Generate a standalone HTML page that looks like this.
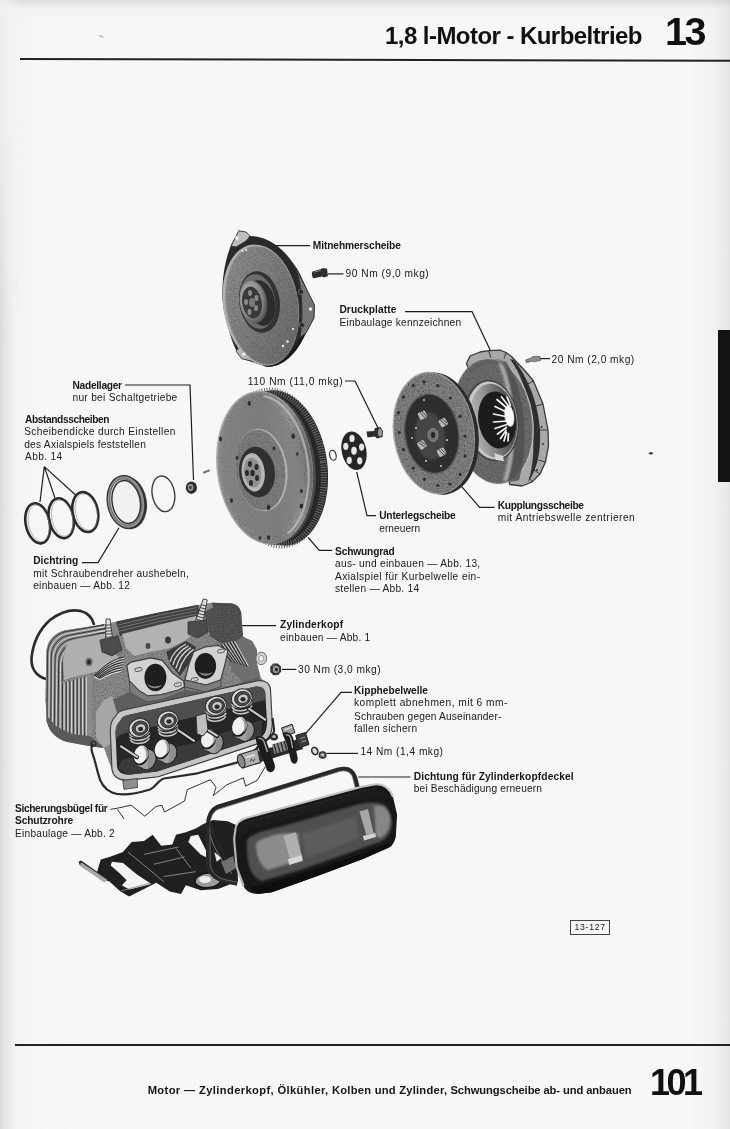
<!DOCTYPE html>
<html><head><meta charset="utf-8">
<style>
html,body{margin:0;padding:0;overflow:hidden;}
body{width:730px;height:1129px;position:relative;overflow:hidden;background:#f1f1f1;font-family:"Liberation Sans",sans-serif;color:#1a1a1a;}
#bg{position:absolute;left:0;top:0;width:730px;height:1129px;
 background:linear-gradient(180deg,rgba(200,200,200,0.55) 0px,rgba(230,230,230,0.25) 8px,rgba(245,245,245,0) 22px),
 linear-gradient(90deg,#d8d8d8 0px,#e4e4e4 5px,#eeeeee 11px,#f4f4f4 18px,#f6f6f6 32px,#f7f7f7 80px,#f7f7f7 690px,#f3f3f3 712px,#ececec 723px,#e4e4e4 730px);}
.t{position:absolute;white-space:nowrap;font-size:10.2px;line-height:12px;color:#202020;}
.b{font-weight:bold;color:#161616;}
.f{font-weight:bold;color:#151515;font-size:11.2px;line-height:14px;white-space:pre;}
#h1{position:absolute;left:385px;top:22.2px;font-size:24px;font-weight:bold;letter-spacing:-0.55px;white-space:nowrap;color:#111;line-height:28px;}
#h2{position:absolute;left:665px;top:9.4px;font-size:39.5px;font-weight:bold;letter-spacing:-2.5px;white-space:nowrap;color:#111;line-height:44px;}
#f1{position:absolute;left:146.5px;top:1080.3px;font-size:11.2px;font-weight:bold;letter-spacing:0.26px;white-space:nowrap;color:#111;line-height:14px;}
#f2{position:absolute;left:650px;top:1061.3px;font-size:36px;font-weight:bold;letter-spacing:-3.5px;white-space:nowrap;color:#111;line-height:44px;}
#bgl{position:absolute;left:0;top:0;width:24px;height:340px;background:linear-gradient(90deg,rgba(246,246,246,0.75) 0px,rgba(246,246,246,0.6) 8px,rgba(246,246,246,0) 24px);-webkit-mask-image:linear-gradient(180deg,#000 0px,#000 110px,transparent 340px);mask-image:linear-gradient(180deg,#000 0px,#000 110px,transparent 340px);}
.hl{position:absolute;height:1.5px;background:#222;}
#tab{position:absolute;left:717.5px;top:329.5px;width:13px;height:152px;background:#141414;filter:blur(0.5px);}
#box{position:absolute;left:570px;top:920.4px;width:38.4px;height:12.4px;border:0.9px solid #444;font-size:8.6px;line-height:13px;text-align:center;letter-spacing:0.75px;color:#222;}
svg{position:absolute;left:0;top:0;filter:blur(0.45px);}
.t,#h1,#h2,#f1,#f2,#box{filter:blur(0.3px);}
</style></head><body>
<div id="bg"></div>
<div id="bgl"></div>
<div id="h1">1,8 l-Motor - Kurbeltrieb</div>
<div id="h2">13</div>
<div class="hl" style="left:19.5px;top:58px;width:710.5px;height:1.7px;transform-origin:0 0;transform:rotate(0.15deg);"></div>
<div class="hl" style="left:14.5px;top:1043.8px;width:715.5px;height:1.9px;"></div>
<div id="tab"></div>
<div id="box">13-127</div>
<div id="f2">101</div>

<svg width="730" height="1129" viewBox="0 0 730 1129">
<defs>
<filter id="grain" x="0" y="0" width="100%" height="100%">
 <feTurbulence type="fractalNoise" baseFrequency="0.9" numOctaves="2" seed="3" result="n"/>
 <feColorMatrix in="n" type="matrix" values="0 0 0 0 0  0 0 0 0 0  0 0 0 0 0  0 0 0 -1.3 0.78" result="a"/>
 <feComposite in="a" in2="SourceAlpha" operator="in" result="m"/>
 <feMerge><feMergeNode in="SourceGraphic"/><feMergeNode in="m"/></feMerge>
</filter>
<filter id="grain2" x="0" y="0" width="100%" height="100%">
 <feTurbulence type="fractalNoise" baseFrequency="0.85" numOctaves="2" seed="7" result="n"/>
 <feColorMatrix in="n" type="matrix" values="0 0 0 0 0  0 0 0 0 0  0 0 0 0 0  0 0 0 -1.7 1.1" result="a"/>
 <feComposite in="a" in2="SourceAlpha" operator="in" result="m"/>
 <feMerge><feMergeNode in="SourceGraphic"/><feMergeNode in="m"/></feMerge>
</filter>
<filter id="soft"><feGaussianBlur stdDeviation="0.5"/></filter>
<filter id="soft2"><feGaussianBlur stdDeviation="1.2"/></filter>
<linearGradient id="gFace" x1="0" y1="0" x2="1" y2="1">
 <stop offset="0" stop-color="#939393"/><stop offset="0.5" stop-color="#808080"/><stop offset="1" stop-color="#6a6a6a"/>
</linearGradient>
<linearGradient id="gFaceH" x1="0" y1="0" x2="1" y2="0">
 <stop offset="0" stop-color="#949494"/><stop offset="0.55" stop-color="#838383"/><stop offset="0.8" stop-color="#9a9a9a"/><stop offset="1" stop-color="#707070"/>
</linearGradient>
<linearGradient id="gDark" x1="0" y1="0" x2="1" y2="1">
 <stop offset="0" stop-color="#4a4a4a"/><stop offset="1" stop-color="#1c1c1c"/>
</linearGradient>
<radialGradient id="gHub" cx="0.4" cy="0.4" r="0.7">
 <stop offset="0" stop-color="#cfcfcf"/><stop offset="0.6" stop-color="#8c8c8c"/><stop offset="1" stop-color="#3a3a3a"/>
</radialGradient>
<linearGradient id="gCone" x1="0" y1="0" x2="1" y2="0"><stop offset="0" stop-color="#b8b8b8"/><stop offset="0.3" stop-color="#9a9a9a"/><stop offset="0.75" stop-color="#5a5a5a"/><stop offset="1" stop-color="#505050"/></linearGradient>
</defs>
<g fill="none" stroke="#1e1e1e" stroke-width="1.2" stroke-linejoin="round">
<path d="M273,245.7H310"/>
<path d="M328,273.9H343.5"/>
<path d="M405,311.6H472L492,354"/>
<path d="M540,358.6H550"/>
<path d="M345,381H355L378,428"/>
<path d="M125,385H190L193.5,480"/>
<path d="M44.3,466.6L40,502M44.3,466.6L54.9,497.7M44.3,466.6L75.3,494.7"/>
<path d="M82,562.6H98L119,527.8"/>
<path d="M356.7,471.8L367,515.6H376"/>
<path d="M460.2,484.9L479.6,507.3H494.5"/>
<path d="M308.2,537.5L319.2,550.4H332"/>
<path d="M241.7,625.7H276"/>
<path d="M282,669.4H296.3"/>
<path d="M305.6,733.6L341,692.4H352"/>
<path d="M326.5,753.4H358"/>
<path d="M358.3,777H410.5"/>
</g>
<ellipse cx="650.9" cy="453.3" rx="2.2" ry="1.1" fill="#2a2a2a"/>
<path d="M99,35.5 L103.5,37.5" stroke="#9a9a9a" stroke-width="0.9"/>
<!-- Mitnehmerscheibe -->
<g id="drive">
<path d="M238.8,230.8 L246,232 L250,236 C262,236 275,242 286,254 C292,261 297,268 300,274 L308,292 L314.5,305 L314,318 L306,333 C300,346 292,358 280,364 C275,366.5 270,367 265.6,366.5 L241.6,358.5 C236,352 232,342 229,330 C224,314 221.5,300 222.5,287 C223,272 226,258 231,245 Z" fill="#2a2a2a"/>
<path d="M238.8,230.8 L246,232 L250,236 L246,241 L236,247 L231,246 Z" fill="#bdbdbd" stroke="#3a3a3a" stroke-width="0.9"/>
<path d="M241.6,358.8 L236,351 L240,347 L248,352 L252,361Z" fill="#b5b5b5" stroke="#3a3a3a" stroke-width="0.8"/>
<path d="M296,268 L308,292 L314.5,305 L314,318 L306,333 L300,338 C303,318 303,290 296,268Z" fill="#747474" stroke="#2a2a2a" stroke-width="0.9"/>
<path d="M287,256 C294,264 298,272 300,280 L302,300 C302,290 300,275 296,268Z" fill="#4e4e4e"/>
<path d="M300,338 L306,333 C300,346 292,358 280,364 C275,366.5 270,367 265.6,366.5 L262,364 C280,362 292,352 300,338Z" fill="#1c1c1c"/>
<ellipse cx="260.8" cy="305" rx="37.6" ry="61" transform="rotate(-9 260.8 305)" fill="#b0b0b0"/>
<ellipse cx="262.2" cy="305.4" rx="36" ry="59.6" transform="rotate(-9 262.2 305.4)" fill="url(#gFace)" filter="url(#grain)"/>
<ellipse cx="259.5" cy="302" rx="20.2" ry="31" transform="rotate(-9 259.5 302)" fill="#323232"/>
<ellipse cx="257.5" cy="301.5" rx="17.6" ry="27.5" transform="rotate(-9 257.5 301.5)" fill="#6c6c6c"/>
<ellipse cx="261" cy="303" rx="14" ry="23" transform="rotate(-9 261 303)" fill="#2c2c2c"/>
<ellipse cx="253.5" cy="302" rx="13.6" ry="21.4" transform="rotate(-9 253.5 302)" fill="url(#gHub)"/>
<ellipse cx="252" cy="302.5" rx="9.8" ry="16" transform="rotate(-9 252 302.5)" fill="#3a3a3a"/>
<ellipse cx="252" cy="302.5" rx="3" ry="4.5" fill="#7a7a7a"/>
<g fill="#8a8a8a"><ellipse cx="250" cy="293" rx="2" ry="3"/><ellipse cx="256.5" cy="298" rx="2" ry="3"/><ellipse cx="256" cy="308" rx="2" ry="3"/><ellipse cx="249.5" cy="312" rx="2" ry="3"/><ellipse cx="246" cy="302" rx="2" ry="3"/></g>
<g fill="#f0f0f0"><circle cx="237" cy="238" r="1.9"/><circle cx="310.5" cy="309" r="1.7"/><circle cx="243.8" cy="354.2" r="1.6"/><circle cx="246" cy="250" r="1"/><circle cx="242.5" cy="251" r="1"/><circle cx="283" cy="346" r="1.2"/><circle cx="287.5" cy="341.5" r="1.2"/><circle cx="293" cy="329" r="1.1"/></g>
<g fill="#2a2a2a" stroke="#8a8a8a" stroke-width="0.6"><circle cx="301" cy="292" r="2.6"/><circle cx="302" cy="325" r="2.6"/></g>
</g>
<!-- 90 Nm bolt -->
<g><path d="M312.5,271.5 L321,269 L323,268 L327,268.8 L328,276 L324,277.5 L322,276.5 L314,278.3 C311.5,277 311.5,273 312.5,271.5Z" fill="#2e2e2e"/><path d="M314,272.2L321,270.3" stroke="#8a8a8a" stroke-width="1"/></g>
<!-- 20 Nm bolt -->
<g><path d="M525.5,360 L531,358 L533,356.5 L540,356.3 L540.5,360.5 L534,361.8 L532,361.2 L526.5,362.8Z" fill="#8c8c8c" stroke="#444" stroke-width="0.6"/></g>
<!-- Schwungrad -->
<g id="fly">
<ellipse cx="279" cy="468" rx="48.5" ry="78" transform="rotate(-7 279 468)" fill="#262626"/>
<ellipse cx="275.5" cy="468" rx="48" ry="77.5" transform="rotate(-7 275.5 468)" fill="none" stroke="#6e6e6e" stroke-width="6.5" stroke-dasharray="1.0 1.5"/>
<ellipse cx="267.5" cy="468" rx="48" ry="77" transform="rotate(-7 267.5 468)" fill="#474747"/>
<ellipse cx="264.6" cy="467.7" rx="48" ry="77" transform="rotate(-7 264.6 467.7)" fill="#b0b0b0"/>
<ellipse cx="265.4" cy="468" rx="47.2" ry="76.2" transform="rotate(-7 265.4 468)" fill="url(#gFaceH)" filter="url(#grain)"/>
<ellipse cx="261.5" cy="468" rx="40" ry="69" transform="rotate(-7 261.5 468)" fill="#7e7e7e" opacity="0.6" filter="url(#soft2)"/>
<path d="M263.4,395.9 L267.2,396.8 L271.1,398.3 L274.8,400.2 L278.5,402.7 L282.1,405.7 L285.6,409.2 L288.9,413.1 L292.0,417.4 L294.9,422.1 L297.6,427.1 L300.0,432.5 L302.2,438.1 L304.0,444.0 L305.6,450.0 L306.8,456.1 L307.8,462.4 L308.4,468.7 L308.7,475.0 L308.6,481.2 L308.2,487.3 L307.5,493.3 L306.4,499.1 L305.0,504.6 L303.4,509.9 L301.4,514.8 L299.1,519.4 L296.6,523.6 L293.8,527.4 L290.9,530.7 L287.7,533.5" fill="none" stroke="#c2c2c2" stroke-width="2.2" opacity="0.7" filter="url(#soft)"/>
<ellipse cx="261.2" cy="470" rx="26" ry="41.5" transform="rotate(-7 261.2 470)" fill="#b4b4b4"/>
<ellipse cx="260.2" cy="470" rx="25" ry="40.5" transform="rotate(-7 260.2 470)" fill="#808080" filter="url(#grain)"/>
<ellipse cx="257" cy="472" rx="17.8" ry="25.4" transform="rotate(-7 257 472)" fill="#303030"/>
<ellipse cx="253.2" cy="472.3" rx="11.5" ry="19.3" transform="rotate(-7 253.2 472.3)" fill="#b6b6b6"/>
<ellipse cx="252.6" cy="472.6" rx="8.6" ry="15" transform="rotate(-7 252.6 472.6)" fill="#8e8e8e"/>
<g fill="#2a2a2a"><ellipse cx="250" cy="464" rx="2" ry="3"/><ellipse cx="256.5" cy="467" rx="2" ry="3"/><ellipse cx="257" cy="478" rx="2" ry="3"/><ellipse cx="251" cy="483" rx="2" ry="3"/><ellipse cx="247" cy="473" rx="2" ry="3"/><ellipse cx="252.5" cy="473" rx="2.2" ry="3.2"/></g>
<g fill="#2c2c2c"><ellipse cx="249.3" cy="403.3" rx="1.6" ry="2.4"/><ellipse cx="220.5" cy="438.9" rx="1.5" ry="2.3"/><ellipse cx="293.2" cy="436.2" rx="1.8" ry="2.6"/><ellipse cx="274" cy="448.5" rx="1.4" ry="2"/><ellipse cx="237" cy="458" rx="1.4" ry="2"/><ellipse cx="231.5" cy="500.5" rx="1.5" ry="2.2"/><ellipse cx="268.5" cy="507.4" rx="1.8" ry="2.6"/><ellipse cx="301.4" cy="506" rx="1.8" ry="2.6"/><ellipse cx="268.5" cy="537.5" rx="1.6" ry="2.3"/><ellipse cx="297.3" cy="454" rx="1.2" ry="1.8"/><ellipse cx="301.4" cy="491" rx="1.4" ry="2"/><ellipse cx="260" cy="538" rx="1.2" ry="1.8"/></g>
</g>
<!-- small o-ring, washer, bolt -->
<ellipse cx="332.9" cy="455.3" rx="3.2" ry="5" transform="rotate(-15 332.9 455.3)" fill="none" stroke="#333" stroke-width="1.2"/>
<g id="washer">
<ellipse cx="354" cy="450.7" rx="12.3" ry="19.5" transform="rotate(-12 354 450.7)" fill="#262626"/>
<g fill="#e6e6e6"><ellipse cx="354" cy="450.7" rx="2.8" ry="4"/><ellipse cx="352" cy="438.4" rx="2.6" ry="3.6"/><ellipse cx="361.6" cy="447.1" rx="2.6" ry="3.6"/><ellipse cx="359.7" cy="460.8" rx="2.6" ry="3.6"/><ellipse cx="349.3" cy="460.3" rx="2.6" ry="3.6"/><ellipse cx="345.8" cy="446.3" rx="2.6" ry="3.6"/></g>
</g>
<g><path d="M366.5,431.5 L374,431 L375,428 L380.5,427 L383,431 L382.5,437 L377,438.5 L375,436.5 L367.5,437.5Z" fill="#2e2e2e"/><ellipse cx="380" cy="432.5" rx="2" ry="4" fill="#9a9a9a"/></g>
<!-- Druckplatte -->
<g id="press">
<path d="M466.5,363.5 L470,356 L480,352 L488.8,350.7 L500,350.2 L506,352.5 L512,357 L519,364.5 L526,372 L533.5,381 L538,392 L543,404 L545.5,417 L548,430 L548.5,446 L545.5,462 L540,474 L532,482 L522,486 L510,484.5 L480,400Z" fill="#a8a8a8" stroke="#3a3a3a" stroke-width="1.3" stroke-linejoin="round"/>
<path d="M514,360 C528,378 538,402 540,430 C541,452 537,470 528,482 C534,466 535,440 531,414 C527,392 520,372 510,359Z" fill="#2e2e2e"/>
<g fill="none" stroke="#3a3a3a" stroke-width="1"><path d="M519,364.5l-4,4M533.5,381l-6,3M543,404l-7,2M548,430l-8,0M545.5,462l-7,-2M540,474l-6,-4M532,482l-3,-5M488.8,350.7l2,7M506,352.5l-2,6"/></g>
<g fill="#3a3a3a"><circle cx="541.5" cy="427" r="1.1"/><circle cx="543" cy="444" r="1.1"/><circle cx="513" cy="362" r="1.1"/><circle cx="537" cy="470" r="1.1"/></g>
<ellipse cx="493.2" cy="421.3" rx="40" ry="63.2" transform="rotate(-8 493.2 421.3)" fill="#c8c8c8"/>
<ellipse cx="492.6" cy="421.3" rx="39.4" ry="62.6" transform="rotate(-8 492.6 421.3)" fill="#6e6e6e" filter="url(#grain)"/>
<path d="M506,362 C523,385 531,440 519,480 C515,481.5 511,482 507,481.5 C520,450 518,392 500,361Z" fill="#505050" opacity="0.8" filter="url(#soft)"/>
<path d="M500,362 C514,392 516,450 505,481" fill="none" stroke="#bdbdbd" stroke-width="4" opacity="0.8" filter="url(#soft2)"/>
<path d="M470,372 C482,360 496,358 506,364" fill="none" stroke="#5a5a5a" stroke-width="3" opacity="0.7" filter="url(#soft2)"/>
<ellipse cx="491.5" cy="420.6" rx="27" ry="41" transform="rotate(-8 491.5 420.6)" fill="#464646"/>
<ellipse cx="491.9" cy="420.5" rx="25.3" ry="39.3" transform="rotate(-8 491.9 420.5)" fill="#c6c6c6"/>
<ellipse cx="493.4" cy="420.6" rx="23.4" ry="37" transform="rotate(-8 493.4 420.6)" fill="url(#gCone)"/>
<ellipse cx="497" cy="420" rx="18.7" ry="28.6" transform="rotate(-8 497 420)" fill="#1c1c1c"/>
<g stroke="#f4f4f4" stroke-width="1.7" stroke-linecap="round" filter="url(#soft)"><path d="M508,409L497,399.5M508.5,413L495,406.5M508,417L493.5,414M507.5,421L493.5,422M507,424.5L495,428.5M506.5,427.5L497.5,434M506,430.5L500.5,438.5M506.5,432.5L504,441M508.5,433.5L508,441M509,406.5L501.5,397M510.5,405.5L507,397"/></g>
<ellipse cx="509.3" cy="416" rx="4.8" ry="10.8" transform="rotate(-8 509.3 416)" fill="#fafafa" filter="url(#soft)"/>
<path d="M494,453 L503,456 L504,461 L496,460Z" fill="#d8d8d8"/>
</g>
<!-- Kupplungsscheibe -->
<g id="clutch">
<ellipse cx="437.8" cy="433.5" rx="40.6" ry="61.5" transform="rotate(-8 437.8 433.5)" fill="#2a2a2a"/>
<ellipse cx="433.8" cy="433" rx="40.8" ry="61.5" transform="rotate(-8 433.8 433)" fill="#b0b0b0"/>
<ellipse cx="434.2" cy="433.2" rx="39.9" ry="60.6" transform="rotate(-8 434.2 433.2)" fill="#8a8a8a" filter="url(#grain2)"/>
<ellipse cx="431.8" cy="433.8" rx="27.6" ry="40.6" transform="rotate(-8 431.8 433.8)" fill="#5a5a5a"/>
<ellipse cx="431.8" cy="433.8" rx="26.2" ry="39.2" transform="rotate(-8 431.8 433.8)" fill="#2e2e2e"/>
<ellipse cx="430" cy="436" rx="15" ry="24" transform="rotate(-8 430 436)" fill="#444" filter="url(#soft2)"/>
<g fill="#b8b8b8"><rect x="418.5" y="411.5" width="8" height="7.5" rx="1.5" transform="rotate(-25 422.4 415.2)"/><rect x="439" y="418.5" width="8" height="7.5" rx="1.5" transform="rotate(60 442.9 422.6)"/><rect x="418" y="441" width="8" height="7.5" rx="1.5" transform="rotate(55 421.9 444.8)"/><rect x="437.5" y="448.5" width="8" height="7.5" rx="1.5" transform="rotate(-30 441.6 452.2)"/></g>
<g stroke="#2b2b2b" stroke-width="0.8"><path d="M420,412l5,6M422,411l5,6M440,420l6,5M441,418l6,5M419,443l6,4M420,441l6,4M439,450l5,5M441,449l5,5"/></g>
<ellipse cx="433" cy="435" rx="5" ry="6.5" fill="#6e6e6e" stroke="#999" stroke-width="0.8"/>
<ellipse cx="433" cy="435" rx="2" ry="3" fill="#222"/>
<g fill="#cfcfcf"><circle cx="416" cy="428" r="1"/><circle cx="447" cy="440" r="1"/><circle cx="426" cy="461" r="1"/><circle cx="441" cy="466" r="1"/><circle cx="412" cy="438" r="0.9"/><circle cx="424" cy="400" r="0.9"/></g>
<g fill="#2e2e2e"><circle cx="413.3" cy="385.6" r="1.6"/><circle cx="423.9" cy="381.9" r="1.6"/><circle cx="437.9" cy="385.6" r="1.6"/><circle cx="450.3" cy="398" r="1.6"/><circle cx="403.4" cy="397.2" r="1.6"/><circle cx="398.5" cy="412.7" r="1.6"/><circle cx="399.2" cy="432.5" r="1.6"/><circle cx="403.4" cy="449.7" r="1.6"/><circle cx="413.3" cy="468.2" r="1.6"/><circle cx="424.4" cy="479.3" r="1.6"/><circle cx="437.9" cy="485.5" r="1.6"/><circle cx="460.1" cy="474.4" r="1.6"/><circle cx="465.1" cy="455.9" r="1.6"/><circle cx="460.1" cy="416.4" r="1.6"/><circle cx="465" cy="436.2" r="1.6"/><circle cx="450" cy="484" r="1.6"/></g>
</g>
<!-- shims, seal, o-ring, needle bearing -->
<g fill="none" stroke="#2a2a2a">
<ellipse cx="37.7" cy="523.3" rx="12" ry="20.3" transform="rotate(-12 37.7 523.3)" stroke-width="2.6"/>
<ellipse cx="61.2" cy="518.2" rx="12.2" ry="20.2" transform="rotate(-12 61.2 518.2)" stroke-width="2.6"/>
<ellipse cx="85.3" cy="512.1" rx="12.6" ry="20.2" transform="rotate(-12 85.3 512.1)" stroke-width="2.6"/>
<ellipse cx="163.4" cy="493.8" rx="11.2" ry="18" transform="rotate(-10 163.4 493.8)" stroke-width="1.4" stroke="#3c3c3c"/>
</g>
<g fill="none" stroke="#8a8a8a" stroke-width="0.8" opacity="0.7">
<ellipse cx="38.7" cy="523.3" rx="10.2" ry="18.6" transform="rotate(-12 38.7 523.3)"/>
<ellipse cx="62.2" cy="518.2" rx="10.4" ry="18.5" transform="rotate(-12 62.2 518.2)"/>
<ellipse cx="86.3" cy="512.1" rx="10.8" ry="18.5" transform="rotate(-12 86.3 512.1)"/>
</g>
<g id="seal">
<ellipse cx="127.5" cy="502.5" rx="19.3" ry="27" transform="rotate(-10 127.5 502.5)" fill="#3a3a3a"/>
<ellipse cx="126" cy="502" rx="18.6" ry="26.6" transform="rotate(-10 126 502)" fill="#8e8e8e" stroke="#2e2e2e" stroke-width="1.2"/>
<ellipse cx="125.6" cy="502" rx="15.6" ry="23.4" transform="rotate(-10 125.6 502)" fill="#c8c8c8" stroke="#555" stroke-width="0.8"/>
<ellipse cx="126.2" cy="502" rx="14" ry="21.6" transform="rotate(-10 126.2 502)" fill="#f1f1f1" stroke="#2e2e2e" stroke-width="1.4"/>
</g>
<g id="needle">
<ellipse cx="191.4" cy="487.7" rx="5.6" ry="6.2" fill="#2c2c2c"/>
<ellipse cx="190.6" cy="487.5" rx="2.8" ry="3.4" fill="#9a9a9a"/>
<ellipse cx="190.4" cy="487.5" rx="1.3" ry="1.8" fill="#333"/>
</g>
<path d="M204,472.5 L209,470.5" stroke="#777" stroke-width="2" stroke-linecap="round"/>
<!-- Zylinderkopf -->
<g id="head">
<path d="M93.8,624 C92,617 88,613 80,610.8 C70,609 60,612.5 50,620 C40,629 33,643 31.5,658 C31,668 36,676 46,679" fill="none" stroke="#2c2c2c" stroke-width="2.7" stroke-linecap="round"/>
<path d="M46.5,650 C48,640 55,633 64,630.5 L104,624.5 L160,612.5 L196,605.5 L212,602.7 L232,603.5 C238,605 241,609 241.5,615 L243,636.6 L252,641 L257,650 L257,664 L261,678 L268,686 L270,688 L272,724 L265,742 L158,777 L126,781 L112,770 L104,748 L92,746.5 L70,742.5 C58,740 50,734 47,722 L45.5,700 Z" fill="#8c8c8c" filter="url(#grain)"/>
<path d="M64,630.5 L104,624.5 L160,612.5 L212,602.7 L232,603.5 L238,606 L236,613 L214,612 L162,622.5 L106,635 L72,641 C62,644 57,650 56,660 L55.5,724 L47,720 L45.5,700 L46.5,650 C48,640 55,633 64,630.5Z" fill="#888888"/>
<path d="M47.0,722.0 L47.6,652.0 C48.5,642.0 55.0,634.5 65.0,631.8 L104.0,624.8 L97.0,626.0" fill="none" stroke="#303030" stroke-width="0.9"/>
<path d="M48.9,723.3 L49.5,653.7 C50.4,643.5 56.9,636.2 66.8,633.6 L104.6,626.7 L97.0,627.9" fill="none" stroke="#e0e0e0" stroke-width="0.9"/>
<path d="M50.7,724.6 L51.3,655.3 C52.2,645.0 58.7,637.8 68.7,635.3 L105.1,628.6 L97.0,629.9" fill="none" stroke="#303030" stroke-width="0.9"/>
<path d="M52.5,725.9 L53.1,657.0 C54.0,646.4 60.5,639.5 70.5,637.1 L105.7,630.5 L97.0,631.8" fill="none" stroke="#e0e0e0" stroke-width="0.9"/>
<path d="M54.4,727.2 L55.0,658.7 C55.9,647.9 62.4,641.2 72.4,638.8 L106.2,632.3 L97.0,633.8" fill="none" stroke="#303030" stroke-width="0.9"/>
<path d="M56.2,728.5 L56.9,660.3 C57.8,649.4 64.2,642.8 74.2,640.6 L106.8,634.2 L97.0,635.7" fill="none" stroke="#e0e0e0" stroke-width="0.9"/>
<path d="M58.1,729.8 L58.7,662.0 C59.6,650.9 66.1,644.5 76.1,642.3 L107.3,636.1 L97.0,637.7" fill="none" stroke="#303030" stroke-width="0.9"/>
<path d="M60.0,731.1 L60.6,663.7 C61.5,652.4 68.0,646.2 78.0,644.1 L107.9,638.0 L97.0,639.6" fill="none" stroke="#e0e0e0" stroke-width="0.9"/>
<path d="M61.8,732.4 L62.4,665.3 C63.3,653.8 69.8,647.8 79.8,645.9 L108.4,639.9 L97.0,641.5" fill="none" stroke="#303030" stroke-width="0.9"/>
<path d="M116,621.6 L160,612.3 L198,604.8 L200,617 L162,625.5 L120,636Z" fill="#404040"/>
<path d="M118,625.0 L160,615.0 L197,607.6" fill="none" stroke="#8a8a8a" stroke-width="0.7"/>
<path d="M118,628.2 L160,618.2 L197,610.8" fill="none" stroke="#8a8a8a" stroke-width="0.7"/>
<path d="M118,631.4 L160,621.4 L197,614.0" fill="none" stroke="#8a8a8a" stroke-width="0.7"/>
<path d="M66,646 C70,640 76,638.5 84,637.5 L104,634 L112,648 L120,660 L112,668 L96,672 L78,676 L64,680 L63,660Z" fill="#b0b0b0"/>
<ellipse cx="89" cy="662" rx="3.6" ry="4.2" fill="#6e6e6e"/><ellipse cx="89" cy="662" rx="2" ry="2.5" fill="#2a2a2a"/>
<path d="M122,634 L162,624 L196,616 L200,628 L186,640 L170,648 L150,652 L134,656 L126,648Z" fill="#b2b2b2"/>
<ellipse cx="168" cy="640" rx="3" ry="3.6" fill="#3a3a3a"/><ellipse cx="148" cy="646" rx="2.4" ry="3" fill="#4a4a4a"/>
<path d="M61,682 L88,674 L92,676 L92,740 L86,741 L70,742 L61,736Z" fill="#8a8a8a"/>
<path d="M62.5,683.0 L62.5,731.0" stroke="#333" stroke-width="1.1"/>
<path d="M64.1,683.0 L64.1,730.0" stroke="#d4d4d4" stroke-width="1.2"/>
<path d="M66.2,681.9 L66.2,732.4" stroke="#333" stroke-width="1.1"/>
<path d="M67.8,681.9 L67.8,731.4" stroke="#d4d4d4" stroke-width="1.2"/>
<path d="M69.9,680.8 L69.9,733.8" stroke="#333" stroke-width="1.1"/>
<path d="M71.5,680.8 L71.5,732.8" stroke="#d4d4d4" stroke-width="1.2"/>
<path d="M73.6,679.7 L73.6,735.2" stroke="#333" stroke-width="1.1"/>
<path d="M75.2,679.7 L75.2,734.2" stroke="#d4d4d4" stroke-width="1.2"/>
<path d="M77.3,678.6 L77.3,736.6" stroke="#333" stroke-width="1.1"/>
<path d="M78.9,678.6 L78.9,735.6" stroke="#d4d4d4" stroke-width="1.2"/>
<path d="M81.0,677.5 L81.0,738.0" stroke="#333" stroke-width="1.1"/>
<path d="M82.6,677.5 L82.6,737.0" stroke="#d4d4d4" stroke-width="1.2"/>
<path d="M84.7,676.4 L84.7,739.4" stroke="#333" stroke-width="1.1"/>
<path d="M86.3,676.4 L86.3,738.4" stroke="#d4d4d4" stroke-width="1.2"/>
<path d="M47,716 L56,726 L70,734 L90,736 L104,748 L92,746.5 L70,742.5 C58,740 50,734 47,722Z" fill="#5a5a5a"/>
<path d="M94.0,676.0 C102.0,668.0 110.0,660.0 124.0,657.0" fill="none" stroke="#2e2e2e" stroke-width="1.2"/>
<path d="M94.0,677.3 C102.0,669.3 110.0,661.3 124.0,658.3" fill="none" stroke="#dadada" stroke-width="1.1"/>
<path d="M95.0,676.5 C102.8,669.3 110.5,662.3 123.5,659.6" fill="none" stroke="#2e2e2e" stroke-width="1.2"/>
<path d="M95.0,677.8 C102.8,670.6 110.5,663.6 123.5,660.9" fill="none" stroke="#dadada" stroke-width="1.1"/>
<path d="M96.1,677.0 C103.6,670.6 111.0,664.7 123.0,662.2" fill="none" stroke="#2e2e2e" stroke-width="1.2"/>
<path d="M96.1,678.3 C103.6,671.9 111.0,666.0 123.0,663.5" fill="none" stroke="#dadada" stroke-width="1.1"/>
<path d="M97.1,677.6 C104.3,671.9 111.6,667.0 122.4,664.8" fill="none" stroke="#2e2e2e" stroke-width="1.2"/>
<path d="M97.1,678.9 C104.3,673.2 111.6,668.3 122.4,666.1" fill="none" stroke="#dadada" stroke-width="1.1"/>
<path d="M98.2,678.1 C105.1,673.2 112.1,669.4 121.9,667.4" fill="none" stroke="#2e2e2e" stroke-width="1.2"/>
<path d="M98.2,679.4 C105.1,674.5 112.1,670.7 121.9,668.7" fill="none" stroke="#dadada" stroke-width="1.1"/>
<path d="M99.2,678.6 C105.9,674.5 112.6,671.7 121.4,670.0" fill="none" stroke="#2e2e2e" stroke-width="1.2"/>
<path d="M99.2,679.9 C105.9,675.8 112.6,673.0 121.4,671.3" fill="none" stroke="#dadada" stroke-width="1.1"/>
<path d="M166,652 L186,641 L196,647 L190,662 L180,676 L170,664Z" fill="#3a3a3a"/>
<path d="M170.0,662.0 C172.0,654.0 178.0,648.0 186.0,644.0" fill="none" stroke="#d8d8d8" stroke-width="1.3"/>
<path d="M172.9,665.2 C175.2,656.2 181.6,649.4 188.5,645.8" fill="none" stroke="#d8d8d8" stroke-width="1.3"/>
<path d="M175.8,668.5 C178.5,658.3 185.2,650.9 191.0,647.6" fill="none" stroke="#d8d8d8" stroke-width="1.3"/>
<path d="M178.6,671.7 C181.7,660.5 188.8,652.3 193.6,649.4" fill="none" stroke="#d8d8d8" stroke-width="1.3"/>
<path d="M204,612 L214,607 L232,605 C238,606 240.5,609 241,615 L243,636.6 L236,642 L222,644 L210,636Z" fill="#565656" filter="url(#grain)"/>
<path d="M212,602.7 L232,603.5 C238,605 241,609 241.5,615 L238,611 C236,608 233,607 230,607 L213,607Z" fill="#4a4a4a"/>
<path d="M214,644 L236,641 L243,637 L252,641 L257,650 L257,664 L260.5,680 L246,686 L232,670 L226,654Z" fill="#6e6e6e"/>
<path d="M218.0,645.0 L232.0,662.0" stroke="#2a2a2a" stroke-width="1.1"/>
<path d="M219.4,644.6 L233.4,661.6" stroke="#d8d8d8" stroke-width="1.0"/>
<path d="M221.0,644.2 L235.0,662.9" stroke="#2a2a2a" stroke-width="1.1"/>
<path d="M222.4,643.9 L236.4,662.5" stroke="#d8d8d8" stroke-width="1.0"/>
<path d="M224.0,643.5 L238.0,663.8" stroke="#2a2a2a" stroke-width="1.1"/>
<path d="M225.4,643.1 L239.4,663.4" stroke="#d8d8d8" stroke-width="1.0"/>
<path d="M227.0,642.8 L241.0,664.7" stroke="#2a2a2a" stroke-width="1.1"/>
<path d="M228.4,642.4 L242.4,664.3" stroke="#d8d8d8" stroke-width="1.0"/>
<path d="M230.0,642.0 L244.0,665.6" stroke="#2a2a2a" stroke-width="1.1"/>
<path d="M231.4,641.6 L245.4,665.2" stroke="#d8d8d8" stroke-width="1.0"/>
<path d="M233.0,641.2 L247.0,666.5" stroke="#2a2a2a" stroke-width="1.1"/>
<path d="M234.4,640.9 L248.4,666.1" stroke="#d8d8d8" stroke-width="1.0"/>
<ellipse cx="261.2" cy="658.4" rx="5.4" ry="6.2" fill="#d0d0d0" stroke="#6a6a6a" stroke-width="1"/><ellipse cx="261.2" cy="658.4" rx="2.4" ry="3" fill="#f4f4f4" stroke="#777" stroke-width="0.7"/>
<path d="M106.0,619.1 L110.0,618.9 L113.5,645.8 L105.5,646.2 Z" fill="#e2e2e2" stroke="#333" stroke-width="0.9"/>
<path d="M105.9,625.1 L110.8,624.9" stroke="#3a3a3a" stroke-width="1"/>
<path d="M105.8,628.1 L111.2,627.9" stroke="#3a3a3a" stroke-width="1"/>
<path d="M105.8,631.2 L111.6,630.8" stroke="#3a3a3a" stroke-width="1"/>
<path d="M105.7,634.2 L111.9,633.8" stroke="#3a3a3a" stroke-width="1"/>
<path d="M105.7,637.2 L112.3,636.8" stroke="#3a3a3a" stroke-width="1"/>
<path d="M105.6,640.2 L112.7,639.8" stroke="#3a3a3a" stroke-width="1"/>
<path d="M105.6,643.2 L113.1,642.8" stroke="#3a3a3a" stroke-width="1"/>
<ellipse cx="109.5" cy="647.5" rx="5.2" ry="3" fill="#4a4a4a"/>
<path d="M203.4,598.9 L207.2,599.9 L201.9,627.1 L194.1,624.9 Z" fill="#e2e2e2" stroke="#333" stroke-width="0.9"/>
<path d="M201.3,604.7 L206.0,606.0" stroke="#3a3a3a" stroke-width="1"/>
<path d="M200.3,607.6 L205.4,609.0" stroke="#3a3a3a" stroke-width="1"/>
<path d="M199.3,610.5 L204.8,612.0" stroke="#3a3a3a" stroke-width="1"/>
<path d="M198.2,613.4 L204.2,615.0" stroke="#3a3a3a" stroke-width="1"/>
<path d="M197.2,616.3 L203.6,618.0" stroke="#3a3a3a" stroke-width="1"/>
<path d="M196.2,619.1 L203.1,621.0" stroke="#3a3a3a" stroke-width="1"/>
<path d="M195.2,622.0 L202.5,624.0" stroke="#3a3a3a" stroke-width="1"/>
<ellipse cx="198.0" cy="627.5" rx="5.2" ry="3" fill="#4a4a4a"/>
<path d="M100,640 L118,636 L122,650 L112,656 L102,652Z" fill="#4c4c4c" stroke="#333" stroke-width="0.8"/>
<path d="M188,622 L206,620 L208,632 L198,638 L188,634Z" fill="#4c4c4c" stroke="#333" stroke-width="0.8"/>
<path d="M126.9,665.3 L131,662.1 L150.8,657.9 L162.3,660.4 L172.1,672.7 L183.6,681 L184.5,686.7 L178.7,690 L160.6,694.9 L147.5,695.8 L139.2,690.8 L129.4,681 Z" fill="#d2d2d2" stroke="#3a3a3a" stroke-width="1.1" stroke-linejoin="round"/>
<path d="M129.4,681 L139.2,690.8 L147.5,695.8 L160.6,694.9 L178.7,690 L184.5,686.7 L185,692 L166,699 L148,702 L138,699 L130,693Z" fill="#7c7c7c" stroke="#333" stroke-width="0.7"/>
<ellipse cx="155.4" cy="677.5" rx="11" ry="13.8" fill="#1e1e1e"/><path d="M147,684 C150,689 158,690 162,685 C158,687 151,687 147,684Z" fill="#8a8a8a"/>
<path d="M184.9,680 L189,664 L193.6,651.7 L205,647 L218.2,645.5 L228,650.5 L225,664 L220.7,680 L205.9,685 Z" fill="#d2d2d2" stroke="#3a3a3a" stroke-width="1.1" stroke-linejoin="round"/>
<path d="M184.9,680 L205.9,685 L220.7,680 L221.5,686.5 L205,692 L184.5,687Z" fill="#7c7c7c" stroke="#333" stroke-width="0.7"/>
<ellipse cx="205.4" cy="666" rx="10.7" ry="12.9" fill="#1e1e1e"/><path d="M199,672 C202,677 209,677 213,672 C209,674 203,674 199,672Z" fill="#8a8a8a"/>
<rect x="134.9" y="667.8" width="7" height="3.4" rx="1.5" fill="#cfcfcf" stroke="#333" stroke-width="0.7" transform="rotate(-12 138.4 669.5)"/>
<rect x="174.4" y="682.9" width="7" height="3.4" rx="1.5" fill="#cfcfcf" stroke="#333" stroke-width="0.7" transform="rotate(-12 177.9 684.6)"/>
<rect x="191.0" y="677.8" width="7" height="3.4" rx="1.5" fill="#cfcfcf" stroke="#333" stroke-width="0.7" transform="rotate(-12 194.5 679.5)"/>
<rect x="217.5" y="649.3" width="7" height="3.4" rx="1.5" fill="#cfcfcf" stroke="#333" stroke-width="0.7" transform="rotate(-12 221.0 651.0)"/>
<path d="M112,700 L130,692 L150,703 L186,690 L204,692 L222,688 L258,678 L262,684 L120,720 L110,712Z" fill="#5e5e5e"/>
<path d="M104,700 L112,696 L118,716 L110,744 L104,748 L96,738 L96,712Z" fill="#a6a6a6"/>
<path d="M115.6,716.3 C117,712 120,711 124,710 L258,680.7 C266,680 270,684 270.5,689.6 L272.3,723.4 C272,733 270,738 265.2,741.2 L158.3,776.8 L126.3,780.4 C118,780 113,776 112,769.7 L110.3,730.5 C110.5,724 112,719 115.6,716.3Z" fill="#c6c6c6" stroke="#3a3a3a" stroke-width="1.1"/>
<path d="M120.5,720.5 C121.5,717.5 124,716 127,715.3 L256,686.5 C262,686 265,689 265.3,693 L267,722 C267,730 265,734.5 261,737 L157,771.5 L128.5,774.8 C121.5,774.5 117.8,771.5 117,766.5 L115.5,732 C115.8,727 117.5,723 120.5,720.5Z" fill="#262626"/>
<path d="M120.5,720.5 C121.5,717.5 124,716 127,715.3 L256,686.5 C262,686 265,689 265.3,693 L265.5,700 L122,734 L115.8,738 L115.5,732 C115.8,727 117.5,723 120.5,720.5Z" fill="#4e4e4e"/>
<path d="M122,760 L150,752 L190,744 L232,730 L262,720 L261,737 L157,771.5 L128.5,774.8 L118,768Z" fill="#3a3a3a"/>
<ellipse cx="147.2" cy="759.5" rx="8.6" ry="10.5" fill="#8e8e8e" stroke="#1c1c1c" stroke-width="1" transform="rotate(20 147.2 759.5)"/>
<path d="M143.7,745.5 l6.5,5 l-3,19 l-10,-4Z" fill="#a2a2a2"/>
<ellipse cx="141.5" cy="755.1" rx="7.6" ry="10.2" fill="#1a1a1a" transform="rotate(20 140.7 754.5)"/>
<ellipse cx="140.7" cy="754.5" rx="6.6" ry="9.2" fill="#f0f0f0" transform="rotate(20 140.7 754.5)"/>
<path d="M141.7,746.0 c4,2 6,8 3,15 c6,-4 6,-13 -3,-15Z" fill="#9a9a9a" />
<ellipse cx="168.1" cy="753.5" rx="8.6" ry="10.5" fill="#8e8e8e" stroke="#1c1c1c" stroke-width="1" transform="rotate(20 168.1 753.5)"/>
<path d="M164.6,739.5 l6.5,5 l-3,19 l-10,-4Z" fill="#a2a2a2"/>
<ellipse cx="162.4" cy="749.1" rx="7.6" ry="10.2" fill="#1a1a1a" transform="rotate(20 161.6 748.5)"/>
<ellipse cx="161.6" cy="748.5" rx="6.6" ry="9.2" fill="#f0f0f0" transform="rotate(20 161.6 748.5)"/>
<path d="M162.6,740.0 c4,2 6,8 3,15 c6,-4 6,-13 -3,-15Z" fill="#9a9a9a" />
<ellipse cx="214.5" cy="743.5" rx="8.6" ry="10.5" fill="#8e8e8e" stroke="#1c1c1c" stroke-width="1" transform="rotate(20 214.5 743.5)"/>
<path d="M211.0,729.5 l6.5,5 l-3,19 l-10,-4Z" fill="#a2a2a2"/>
<ellipse cx="208.8" cy="739.1" rx="7.6" ry="10.2" fill="#1a1a1a" transform="rotate(20 208.0 738.5)"/>
<ellipse cx="208.0" cy="738.5" rx="6.6" ry="9.2" fill="#f0f0f0" transform="rotate(20 208.0 738.5)"/>
<path d="M209.0,730.0 c4,2 6,8 3,15 c6,-4 6,-13 -3,-15Z" fill="#9a9a9a" />
<ellipse cx="245.5" cy="731.0" rx="8.6" ry="10.5" fill="#8e8e8e" stroke="#1c1c1c" stroke-width="1" transform="rotate(20 245.5 731.0)"/>
<path d="M242.0,717.0 l6.5,5 l-3,19 l-10,-4Z" fill="#a2a2a2"/>
<ellipse cx="239.8" cy="726.6" rx="7.6" ry="10.2" fill="#1a1a1a" transform="rotate(20 239.0 726.0)"/>
<ellipse cx="239.0" cy="726.0" rx="6.6" ry="9.2" fill="#f0f0f0" transform="rotate(20 239.0 726.0)"/>
<path d="M240.0,717.5 c4,2 6,8 3,15 c6,-4 6,-13 -3,-15Z" fill="#9a9a9a" />
<path d="M129.4,733.5 c2,5 15,5 20,-1.5 M129.8,736.7 c2,5 15,5 20,-1.5 M130.4,739.8 c2,5 15,5 19,-1.5" fill="none" stroke="#c8c8c8" stroke-width="1.5"/>
<ellipse cx="139.4" cy="728.0" rx="10.6" ry="9.4" fill="#dadada" stroke="#2a2a2a" stroke-width="1" transform="rotate(-20 139.4 728.0)"/>
<ellipse cx="140.0" cy="728.4" rx="8" ry="7" fill="#4e4e4e" stroke="#222" stroke-width="0.9" transform="rotate(-20 139.4 728.0)"/>
<ellipse cx="140.4" cy="728.7" rx="5.4" ry="4.6" fill="#c8c8c8" stroke="#222" stroke-width="0.8" transform="rotate(-20 139.4 728.0)"/>
<ellipse cx="140.6" cy="728.9" rx="2.6" ry="2.2" fill="#2a2a2a"/>
<path d="M157.8,726.1 c2,5 15,5 20,-1.5 M158.2,729.3 c2,5 15,5 20,-1.5 M158.8,732.4 c2,5 15,5 19,-1.5" fill="none" stroke="#c8c8c8" stroke-width="1.5"/>
<ellipse cx="167.8" cy="720.6" rx="10.6" ry="9.4" fill="#dadada" stroke="#2a2a2a" stroke-width="1" transform="rotate(-20 167.8 720.6)"/>
<ellipse cx="168.4" cy="721.0" rx="8" ry="7" fill="#4e4e4e" stroke="#222" stroke-width="0.9" transform="rotate(-20 167.8 720.6)"/>
<ellipse cx="168.8" cy="721.3" rx="5.4" ry="4.6" fill="#c8c8c8" stroke="#222" stroke-width="0.8" transform="rotate(-20 167.8 720.6)"/>
<ellipse cx="169.0" cy="721.5" rx="2.6" ry="2.2" fill="#2a2a2a"/>
<path d="M205.9,711.3 c2,5 15,5 20,-1.5 M206.3,714.5 c2,5 15,5 20,-1.5 M206.9,717.6 c2,5 15,5 19,-1.5" fill="none" stroke="#c8c8c8" stroke-width="1.5"/>
<ellipse cx="215.9" cy="705.8" rx="10.6" ry="9.4" fill="#dadada" stroke="#2a2a2a" stroke-width="1" transform="rotate(-20 215.9 705.8)"/>
<ellipse cx="216.5" cy="706.2" rx="8" ry="7" fill="#4e4e4e" stroke="#222" stroke-width="0.9" transform="rotate(-20 215.9 705.8)"/>
<ellipse cx="216.9" cy="706.5" rx="5.4" ry="4.6" fill="#c8c8c8" stroke="#222" stroke-width="0.8" transform="rotate(-20 215.9 705.8)"/>
<ellipse cx="217.1" cy="706.7" rx="2.6" ry="2.2" fill="#2a2a2a"/>
<path d="M231.8,703.9 c2,5 15,5 20,-1.5 M232.2,707.1 c2,5 15,5 20,-1.5 M232.8,710.2 c2,5 15,5 19,-1.5" fill="none" stroke="#c8c8c8" stroke-width="1.5"/>
<ellipse cx="241.8" cy="698.4" rx="10.6" ry="9.4" fill="#dadada" stroke="#2a2a2a" stroke-width="1" transform="rotate(-20 241.8 698.4)"/>
<ellipse cx="242.4" cy="698.8" rx="8" ry="7" fill="#4e4e4e" stroke="#222" stroke-width="0.9" transform="rotate(-20 241.8 698.4)"/>
<ellipse cx="242.8" cy="699.1" rx="5.4" ry="4.6" fill="#c8c8c8" stroke="#222" stroke-width="0.8" transform="rotate(-20 241.8 698.4)"/>
<ellipse cx="243.0" cy="699.3" rx="2.6" ry="2.2" fill="#2a2a2a"/>
<path d="M121.0,746.6 L137.0,757.2" stroke="#1c1c1c" stroke-width="4.2" stroke-linecap="round"/>
<path d="M121.0,746.3 L137.0,756.9" stroke="#d0d0d0" stroke-width="2" stroke-linecap="round"/>
<path d="M178.0,730.5 L194.0,741.2" stroke="#1c1c1c" stroke-width="4.2" stroke-linecap="round"/>
<path d="M178.0,730.2 L194.0,740.9" stroke="#d0d0d0" stroke-width="2" stroke-linecap="round"/>
<path d="M199.3,725.2 L217.1,735.9" stroke="#1c1c1c" stroke-width="4.2" stroke-linecap="round"/>
<path d="M199.3,724.9 L217.1,735.6" stroke="#d0d0d0" stroke-width="2" stroke-linecap="round"/>
<path d="M249.2,709.2 L265.2,719.9" stroke="#1c1c1c" stroke-width="4.2" stroke-linecap="round"/>
<path d="M249.2,708.9 L265.2,719.6" stroke="#d0d0d0" stroke-width="2" stroke-linecap="round"/>
<path d="M196,716 L206,713 L208,730 L203,736 L197,734Z" fill="#bdbdbd" stroke="#222" stroke-width="0.9"/>
<path d="M122.7,780.4 L137,778.5 L137.5,787.5 L124,789.3Z" fill="#8e8e8e" stroke="#333" stroke-width="0.8"/>
<path d="M93,744 C90,748 92,752 94,758 L98,773 C100,783 104,789 112,792.5 C120,796 132,795 150,789.5 C156,787 158,780 164,778.5 L197.5,773.3 L236.7,762.6 C248,759 254,752 258,746.6 C266,740 274,736 274.1,730.5 L272.5,718" fill="none" stroke="#2a2a2a" stroke-width="2.2" stroke-linejoin="round"/>
<circle cx="93.5" cy="743.5" r="2.4" fill="none" stroke="#2a2a2a" stroke-width="1.2"/>
<path d="M110.5,809.3 L117.4,808.2 L131.1,805.2 L144.8,816.2 L155.8,806.6 L161.8,805.2 L164.5,812 L184.5,801.1 L187.3,789.6 L210.5,779.7 L216,787.4 L213.3,795.6 L227,784.7 L243.4,777.8 L245.6,786 L257.1,780.5 L265.3,766.8" fill="none" stroke="#2a2a2a" stroke-width="0.95" stroke-linejoin="round"/>
<path d="M117.4,809.5 L124.2,818.9" fill="none" stroke="#2a2a2a" stroke-width="0.95"/>
<g id="rocker">
<path d="M256,752 L300,738.5 L303,749 L259,762.5Z" fill="#2c2c2c"/>
<path d="M272,744.5 L290,739 L292.5,748.5 L274.5,754Z" fill="#8a8a8a"/>
<path d="M274,744 l2.6,9.4 M277.4,743 l2.6,9.4 M280.8,742 l2.6,9.4 M284.2,741 l2.6,9.4 M287.6,740 l2.6,9.4" stroke="#2a2a2a" stroke-width="1.3"/>
<path d="M239.5,754.5 L257.5,749 L260.5,762.5 L242.5,768Z" fill="#b0b0b0" stroke="#222" stroke-width="1.1"/>
<ellipse cx="241.2" cy="761.2" rx="3.4" ry="6.8" transform="rotate(-17 241.2 761.2)" fill="#8a8a8a" stroke="#222" stroke-width="1"/>
<path d="M246,757.5 L255,754.8" stroke="#e6e6e6" stroke-width="1.6"/>
<path d="M250,762 l1.5,-3 l2,2.5 l1.5,-3" fill="none" stroke="#333" stroke-width="0.8"/>
<path d="M255.5,737 C260,734.5 265,736.5 266.5,741.5 L274.5,764 C276.5,771 271,774.5 267,770.5 L262.5,758 C259.5,750 256,744.5 255.5,737Z" fill="#1c1c1c"/>
<path d="M258.5,738.5 C261.5,738 263.5,740 264.5,743 L267.5,752" fill="none" stroke="#a8a8a8" stroke-width="1.4"/>
<path d="M281.5,728 L292,724.2 L295,732.5 L284.5,736.5Z" fill="#9a9a9a" stroke="#222" stroke-width="1"/>
<path d="M284.5,729.8 L292,727" stroke="#e2e2e2" stroke-width="1.3"/>
<path d="M282.5,733 C287,731 291.5,733 293,737.5 L297.5,757 C298.5,764 293.5,766 291,761 L287.5,747 C286,740 283,737.5 282.5,733Z" fill="#1c1c1c"/>
<path d="M285.8,735 C288.6,734.5 290.4,736.5 291,739.5 L292.6,748" fill="none" stroke="#a8a8a8" stroke-width="1.3"/>
<path d="M295.7,735.5 L305.5,732.5 L309,744.5 L299,747.8Z" fill="#3c3c3c" stroke="#1c1c1c" stroke-width="1"/>
<path d="M300.5,738.5 l4.5,-1.4 M301.5,742 l4.5,-1.4" stroke="#a0a0a0" stroke-width="1"/>
<ellipse cx="274" cy="737" rx="4" ry="3.4" fill="#2a2a2a"/><ellipse cx="274" cy="736.6" rx="2" ry="1.6" fill="#b0b0b0"/>
</g>
<path d="M270.2,667 L273,663.6 L277.8,663.4 L281,666.6 L281.2,671.4 L278.2,675 L273.4,675.2 L270.4,672Z" fill="#343434"/><ellipse cx="276" cy="669.4" rx="3.2" ry="3.6" fill="#9a9a9a"/><ellipse cx="276.4" cy="669.6" rx="1.6" ry="1.9" fill="#2a2a2a"/><path d="M272.5,666 l2,-1.5" stroke="#b0b0b0" stroke-width="0.8"/>
<ellipse cx="314.8" cy="751" rx="2.9" ry="3.7" transform="rotate(-25 314.8 751)" fill="#e0e0e0" stroke="#2a2a2a" stroke-width="1.6"/>
<ellipse cx="322.6" cy="755" rx="3.4" ry="3.2" fill="#6a6a6a" stroke="#2a2a2a" stroke-width="1.2"/><ellipse cx="322.6" cy="754.7" rx="1.3" ry="1.2" fill="#d8d8d8"/>
</g>
<!-- spring clip -->
<g id="clip">
<path d="M78.6,861.8 L81.1,860.6 L97.1,871.7 L100.8,859.4 L109.4,856.9 L123,852 L131.6,842.1 L144,840.9 L152.6,834.7 L161.2,845.8 L172.3,844.6 L176,834.7 L185.9,832.3 L195.7,828.6 L204.4,823.6 L213,820 L227.8,821.2 L236,824.9 L238,881 L227.8,885.3 L218,889 L200.7,890.2 L185.9,885.3 L180.9,893.9 L169.9,891.4 L156.3,882.8 L144,889 L129.2,896.4 L120.5,891.4 L109.4,881.6 L99.6,877.9 L89.7,871.7 L79.9,865.5Z" fill="#202020"/>
<path d="M111.9,861.8 L123,863.1 L136.6,874.2 L151.4,884 L141.5,886.5 L129.2,889.5 L121.8,885.3 L126.7,880.3 L119.3,872.9 L110.7,865.5Z" fill="#f2f2f2"/>
<path d="M190.8,836 L198.2,834.7 L210.5,859.4 L200.7,854.4 L188.3,842.1Z" fill="#f2f2f2"/>
<path d="M214.2,852 L221.6,858.1 L216.7,861.8Z" fill="#e6e6e6"/>
<path d="M81.1,862.3 L107,879.6 L104.5,882.8 L79.9,865.5Z" fill="#a8a8a8"/>
<ellipse cx="208" cy="880.3" rx="13" ry="7.2" transform="rotate(-6 208 880.3)" fill="#9c9c9c" stroke="#101010" stroke-width="1.2"/>
<ellipse cx="205" cy="879.5" rx="6" ry="3.4" fill="#ececec" filter="url(#soft)"/>
<g fill="none" stroke="#909090" stroke-width="0.9"><path d="M128,852 L163.7,881.6"/><path d="M144,854.4 L178.5,847"/><path d="M176,848.3 L190.8,868"/><path d="M153.8,864.3 L184.6,856.9"/><path d="M163.7,876.6 L195.7,871.7"/><path d="M121,891 L150,883"/></g>
<path d="M209,832 L214,846 L224,864 L232,874" fill="none" stroke="#8a8a8a" stroke-width="0.8"/>
<path d="M221,862 L233,856 L236,868 L226,874Z" fill="#707070"/>
</g>
<!-- gasket loop -->
<g id="gasket" fill="none" stroke-linejoin="round">
<path d="M237.3,883.5 L223,880.5 C214,878 209,871.5 208.3,864 L208,825 C208.5,815 211,810 217,807.2 L338.5,769.6 C347,767.5 352.5,770 354.8,777 L358,789" stroke="#282828" stroke-width="4.4"/>
<path d="M236.5,882 L224,879.5 C216,877 210.8,870.5 210.2,864 L210,826 C210.3,817 212.5,812 218,809.5 L339,771.4 C346,769.6 350.6,771.6 352.6,777.6 L355.3,788" stroke="#7a7a7a" stroke-width="0.7"/>
<path d="M209,822 L215,836 L226,860" stroke="#262626" stroke-width="2"/>
</g>
<!-- valve cover -->
<g id="vcover">
<path d="M235.7,827.7 C236.5,823 240,820 246,818 L361.7,786.8 L376,784.2 C385,784 390.5,790 393,797 L397.1,814.8 L395.8,836.7 C394.5,842.5 392,846 388.9,847.7 L364.2,858.6 L316,876.6 L271.9,892.3 L257.7,893.9 C250,893.5 245,890.5 243.6,886 L236.6,867.1 L234.1,838.8Z" fill="#181818"/>
<path d="M247,840 C252,834 262,831 280,827 L352,806 C366,802 378,801 386,806 L392,820 C392,832 388,838 380,842 L300,870 L262,881 C252,878 246,866 247,840Z" fill="#505050" filter="url(#soft2)"/>
<path d="M256,843 C266,835 286,832 298,833 L301,860 L268,870 C260,866 256,856 256,843Z" fill="#8c8c8c" filter="url(#soft2)"/>
<path d="M302,834 L356,816 L360,838 L306,858Z" fill="#5c5c5c" filter="url(#soft2)"/>
<path d="M374,806 C382,804 388,808 390,816 C391,826 388,834 380,838 L376,836Z" fill="#868686" filter="url(#soft2)"/>
<path d="M246,822.5 L362,791.5 L378,789.5 C386,790 389,794 390,799 L386,800 C380,797 370,797 360,800 L250,830 C246,831 243,834 242,838 L238,836 C238,829 241,824.5 246,822.5Z" fill="#1a1a1a" filter="url(#soft)"/>
<path d="M235.7,827.7 C236.5,823 240,820 246,818 L361.7,786.8 L376,784.2 C385,784 390.5,790 393,797" fill="none" stroke="#c4c4c4" stroke-width="2"/>
<path d="M243.6,886 L236.6,867.1 L234.1,838.8 L235.7,827.7" fill="none" stroke="#b4b4b4" stroke-width="2.2"/>
<path d="M238.6,829.5 C239.5,826 242,823.8 247,822.3 L362,791 L377,788.6" fill="none" stroke="#2a2a2a" stroke-width="1"/>
<path d="M283.5,836 L295.5,832.3 L301.8,856 L290,859.5Z" fill="#b0b0b0"/>
<path d="M288,859.3 L301.8,855.2 L302.8,860.8 L289.2,865Z" fill="#d8d8d8"/>
<path d="M359.5,811.5 L368,809 L373.5,833 L366.3,835Z" fill="#a6a6a6"/>
<path d="M362.9,836 L375.2,832.8 L376,837 L364,840.4Z" fill="#d2d2d2"/>
<path d="M250,888 L300,874 L364,853 L388,843 L392,845.5 L364.2,858.6 L316,876.6 L271.9,892.3 L257.7,893.9Z" fill="#0e0e0e"/>
</g>
</svg>
<div class="t b" style="left:312.8px;top:239.8px;letter-spacing:-0.09px">Mitnehmerscheibe</div>
<div class="t" style="left:345.6px;top:267.9px;letter-spacing:0.52px">90 Nm (9,0 mkg)</div>
<div class="t b" style="left:339.4px;top:304.4px;letter-spacing:0.09px">Druckplatte</div>
<div class="t" style="left:339.4px;top:316.8px;letter-spacing:0.23px">Einbaulage kennzeichnen</div>
<div class="t" style="left:551.6px;top:353.6px;letter-spacing:0.48px">20 Nm (2,0 mkg)</div>
<div class="t" style="left:247.8px;top:376.1px;letter-spacing:0.58px">110 Nm (11,0 mkg)</div>
<div class="t b" style="left:72.5px;top:379.8px;letter-spacing:-0.28px">Nadellager</div>
<div class="t" style="left:72.5px;top:391.8px;letter-spacing:0.27px">nur bei Schaltgetriebe</div>
<div class="t b" style="left:25.0px;top:414.3px;letter-spacing:-0.41px">Abstandsscheiben</div>
<div class="t" style="left:24.2px;top:426.3px;letter-spacing:0.33px">Scheibendicke durch Einstellen</div>
<div class="t" style="left:24.2px;top:438.9px;letter-spacing:0.24px">des Axialspiels feststellen</div>
<div class="t" style="left:25.0px;top:450.5px;letter-spacing:0.35px">Abb. 14</div>
<div class="t b" style="left:33.2px;top:555.3px;letter-spacing:0.05px">Dichtring</div>
<div class="t" style="left:33.2px;top:568.0px;letter-spacing:0.27px">mit Schraubendreher aushebeln,</div>
<div class="t" style="left:33.2px;top:580.4px;letter-spacing:0.26px">einbauen — Abb. 12</div>
<div class="t b" style="left:379.2px;top:510.0px;letter-spacing:-0.19px">Unterlegscheibe</div>
<div class="t" style="left:379.2px;top:522.7px;letter-spacing:0.03px">erneuern</div>
<div class="t b" style="left:497.7px;top:499.9px;letter-spacing:-0.32px">Kupplungsscheibe</div>
<div class="t" style="left:497.7px;top:512.3px;letter-spacing:0.46px">mit Antriebswelle zentrieren</div>
<div class="t b" style="left:335.0px;top:545.7px;letter-spacing:-0.15px">Schwungrad</div>
<div class="t" style="left:335.0px;top:558.4px;letter-spacing:0.28px">aus- und einbauen — Abb. 13,</div>
<div class="t" style="left:335.0px;top:570.6px;letter-spacing:0.40px">Axialspiel für Kurbelwelle ein-</div>
<div class="t" style="left:335.0px;top:582.8px;letter-spacing:0.27px">stellen — Abb. 14</div>
<div class="t b" style="left:280.0px;top:619.2px;letter-spacing:0.18px">Zylinderkopf</div>
<div class="t" style="left:280.0px;top:631.8px;letter-spacing:0.22px">einbauen — Abb. 1</div>
<div class="t" style="left:298.0px;top:663.5px;letter-spacing:0.48px">30 Nm (3,0 mkg)</div>
<div class="t b" style="left:354.0px;top:685.2px;letter-spacing:-0.01px">Kipphebelwelle</div>
<div class="t" style="left:354.0px;top:697.4px;letter-spacing:0.48px">komplett abnehmen, mit 6 mm-</div>
<div class="t" style="left:354.0px;top:711.0px;letter-spacing:0.15px">Schrauben gegen Auseinander-</div>
<div class="t" style="left:354.0px;top:722.7px;letter-spacing:0.24px">fallen sichern</div>
<div class="t" style="left:360.4px;top:745.8px;letter-spacing:0.48px">14 Nm (1,4 mkg)</div>
<div class="t b" style="left:413.8px;top:770.6px;letter-spacing:0.12px">Dichtung für Zylinderkopfdeckel</div>
<div class="t" style="left:413.8px;top:783.3px;letter-spacing:0.15px">bei Beschädigung erneuern</div>
<div class="t b" style="left:15.0px;top:802.8px;letter-spacing:-0.35px">Sicherungsbügel für</div>
<div class="t b" style="left:15.0px;top:815.2px;letter-spacing:-0.13px">Schutzrohre</div>
<div class="t" style="left:15.0px;top:827.8px;letter-spacing:0.22px">Einbaulage — Abb. 2</div>
<div class="t f" style="left:147.7px;top:1082.6px;letter-spacing:0.36px">Motor — Zylinderkopf, Ölkühler, </div>
<div class="t f" style="left:332.0px;top:1082.6px;letter-spacing:0.23px">Kolben und Zylinder, </div>
<div class="t f" style="left:450.5px;top:1082.6px;letter-spacing:-0.10px">Schwungscheibe ab- und anbauen</div>
</body></html>
